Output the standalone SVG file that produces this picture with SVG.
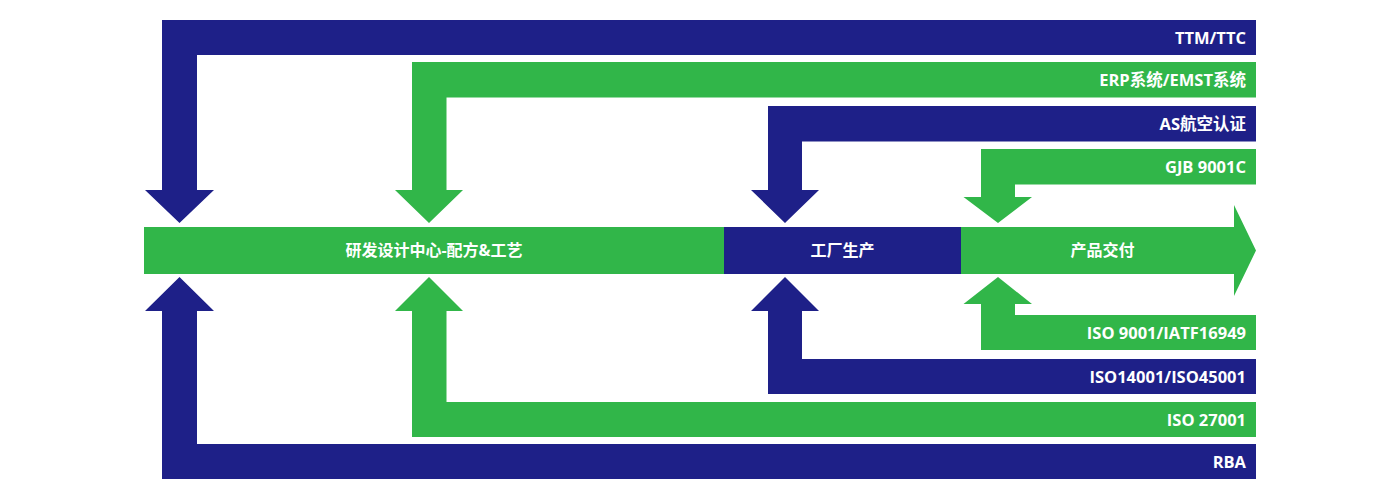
<svg xmlns="http://www.w3.org/2000/svg" width="1400" height="498" viewBox="0 0 1400 498">
<style>
.b{fill:#1e2088}
.g{fill:#31b649}
text{fill:#fff;font-family:"Open Sans","Noto Sans CJK SC",sans-serif;font-weight:700}
.lbl{font-size:16.5px;text-anchor:end}
.nd{font-size:16px;text-anchor:middle}
</style>
<rect width="1400" height="498" fill="#fff"/>
<g id="connectors">
<g id="c-ttm"><polygon class="b" points="1256,20 162,20 162,190 145,190 179.5,223 214,190 197,190 197,55 1256,55"/><text class="lbl" x="1246" y="43.5">TTM/TTC</text></g>
<g id="c-erp"><polygon class="g" points="1256,62 412,62 412,190 395,190 429,223 463,190 446.5,190 446.5,97.5 1256,97.5"/><text class="lbl" x="1246" y="86">ERP系统/EMST系统</text></g>
<g id="c-as"><polygon class="b" points="1256,106 768,106 768,190 751,190 785,223 819,190 802,190 802,141.5 1256,141.5"/><text class="lbl" x="1246" y="130">AS航空认证</text></g>
<g id="c-gjb"><polygon class="g" points="1256,149 981,149 981,197 963.5,197 998,223 1032,197 1015,197 1015,184.5 1256,184.5"/><text class="lbl" x="1246" y="173">GJB 9001C</text></g>
<g id="c-iso9001"><polygon class="g" points="1256,350 981,350 981,304 963.5,304 998,277 1032,304 1015,304 1015,315 1256,315"/><text class="lbl" x="1246" y="338.5">ISO 9001/IATF16949</text></g>
<g id="c-iso14001"><polygon class="b" points="1256,394 768,394 768,311 751,311 785,277 819,311 802,311 802,359 1256,359"/><text class="lbl" x="1246" y="382.5">ISO14001/ISO45001</text></g>
<g id="c-iso27001"><polygon class="g" points="1256,437 412,437 412,311 395,311 429,277 463,311 446.5,311 446.5,402 1256,402"/><text class="lbl" x="1246" y="425.5">ISO 27001</text></g>
<g id="c-rba"><polygon class="b" points="1256,479 162,479 162,311 145,311 179.5,277 214,311 197,311 197,444 1256,444"/><text class="lbl" x="1246" y="467.5">RBA</text></g>
</g>
<g id="node-rd"><rect class="g" x="144" y="227" width="580" height="47"/><text class="nd" x="434" y="256">研发设计中心-配方&amp;工艺</text></g>
<g id="node-factory"><rect class="b" x="724" y="227" width="237" height="47"/><text class="nd" x="842.5" y="256">工厂生产</text></g>
<g id="node-delivery"><polygon class="g" points="961,227 1234,227 1234,205 1256,250.5 1234,296 1234,274 961,274"/><text class="nd" x="1102.5" y="256">产品交付</text></g>
</svg>
